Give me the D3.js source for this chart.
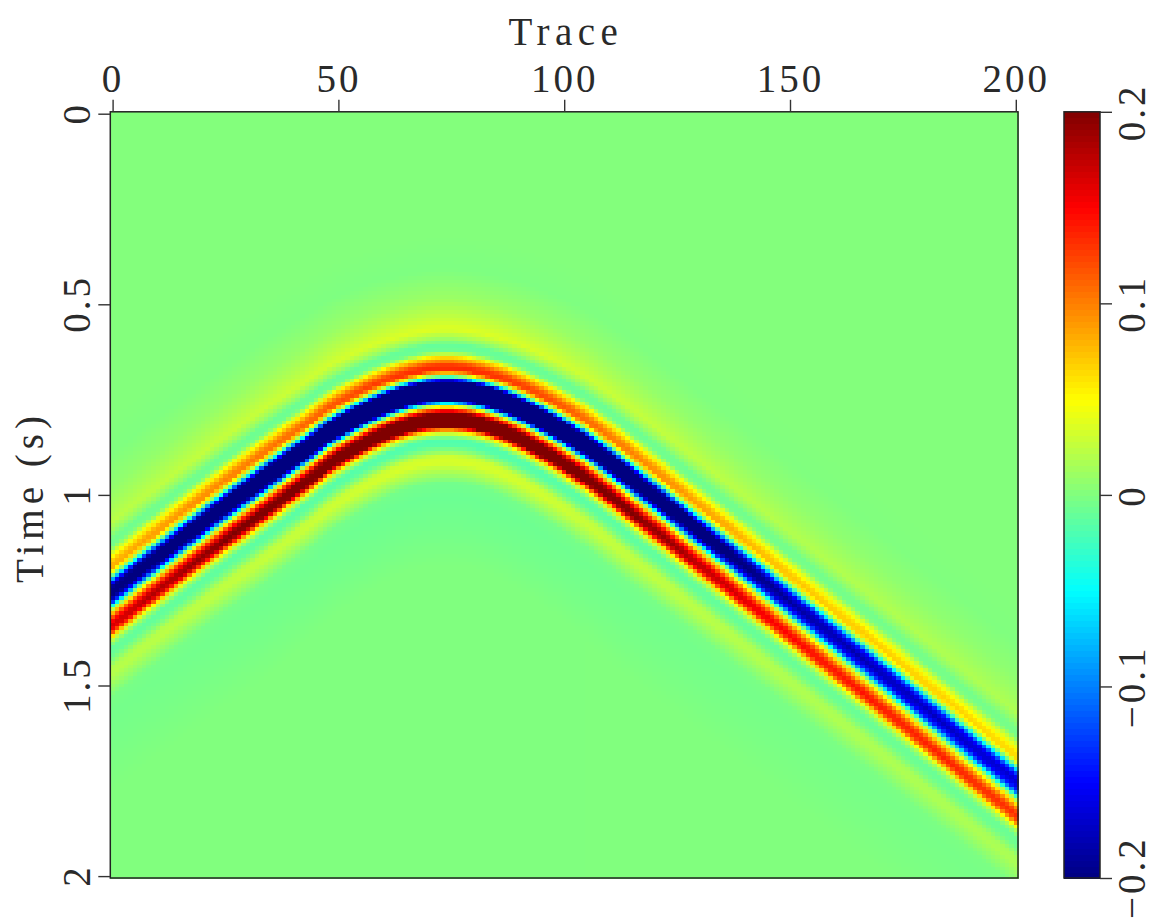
<!DOCTYPE html>
<html><head><meta charset="utf-8">
<script src="https://cdn.jsdelivr.net/npm/d3@7"></script>
<style>
html,body{margin:0;padding:0;background:#fff;overflow:hidden}
svg{display:block}
text{font-family:"Liberation Serif",serif;fill:#2a2a2a;font-weight:400}
</style></head><body>
<svg id="c" width="1153" height="920"></svg>
<script>
const xTicks=[0,50,100,150,200];
const timeTicks=[0,0.5,1,1.5,2];
const timeTickLabels=["0","0.5","1","1.5","2"];
const barTicks=[-0.2,-0.1,0,0.1,0.2];
const barTickLabels=["\u22120.2","\u22120.1","0","0.1","0.2"];
const xTitle="Trace", yTitle="Time (s)";
// reflector centre time (s) read for each trace 0..200
const arrival=[1.252,1.243,1.234,1.225,1.216,1.206,1.197,1.188,1.179,1.170,1.161,1.152,1.143,1.134,1.125,1.116,1.107,1.098,1.090,1.081,
1.072,1.063,1.054,1.046,1.037,1.028,1.020,1.011,1.003,.994,.986,.978,.969,.961,.953,.944,.936,.928,.919,.911,
.903,.895,.886,.878,.869,.860,.851,.842,.834,.827,.820,.814,.807,.801,.795,.789,.783,.777,.772,.767,
.762,.757,.753,.749,.745,.742,.738,.736,.733,.731,.729,.728,.727,.726,.726,.726,.727,.728,.729,.731,
.733,.736,.738,.742,.745,.749,.753,.757,.762,.767,.772,.777,.783,.789,.795,.801,.807,.814,.820,.827,
.834,.841,.848,.856,.863,.870,.879,.887,.896,.905,.913,.922,.931,.940,.949,.958,.967,.976,.985,.994,
1.003,1.012,1.021,1.031,1.040,1.049,1.058,1.067,1.077,1.086,1.095,1.104,1.113,1.123,1.132,1.141,1.150,1.159,1.169,1.178,
1.187,1.196,1.205,1.215,1.224,1.233,1.242,1.252,1.261,1.270,1.280,1.289,1.298,1.308,1.317,1.326,1.336,1.345,1.354,1.364,
1.373,1.382,1.392,1.401,1.410,1.420,1.429,1.438,1.448,1.457,1.467,1.476,1.485,1.495,1.504,1.514,1.523,1.533,1.542,1.552,
1.561,1.571,1.580,1.590,1.599,1.609,1.618,1.628,1.637,1.647,1.656,1.666,1.675,1.685,1.694,1.704,1.713,1.723,1.732,1.742,1.752];
// relative strength of the event read for each trace 0..200
const strength=[.60,.605,.61,.615,.62,.625,.63,.635,.64,.645,.65,.655,.66,.665,.67,.675,.68,.685,.69,.695,
.70,.705,.71,.715,.72,.725,.73,.735,.74,.745,.75,.755,.76,.765,.77,.775,.78,.785,.79,.795,
.80,.805,.81,.815,.82,.83,.84,.85,.86,.87,.88,.885,.89,.90,.905,.91,.92,.925,.93,.94,
.945,.95,.96,.965,.97,.975,.98,.985,.99,.99,.995,.995,1,1,1,1,1,.995,.995,.99,
.99,.985,.98,.975,.97,.965,.96,.95,.945,.94,.93,.925,.92,.91,.905,.90,.89,.88,.87,.86,
.85,.84,.83,.82,.81,.80,.795,.785,.78,.77,.76,.755,.75,.745,.74,.73,.725,.72,.71,.705,
.70,.695,.69,.685,.68,.67,.665,.66,.65,.645,.64,.635,.63,.625,.62,.61,.605,.60,.59,.585,
.58,.575,.57,.565,.56,.555,.55,.545,.54,.535,.53,.528,.526,.525,.524,.522,.521,.52,.518,.516,
.515,.514,.513,.512,.511,.51,.509,.508,.507,.506,.505,.504,.503,.502,.501,.50,.499,.498,.497,.496,
.495,.494,.493,.492,.491,.49,.489,.488,.487,.486,.485,.484,.483,.482,.481,.48,.479,.478,.477,.476,.475];
// vertical width of the event relative to the apex, read for each trace 0..200
const widthFactor=[1.14,1.14,1.14,1.14,1.14,1.14,1.14,1.14,1.14,1.14,
1.14,1.14,1.14,1.14,1.14,1.14,1.14,1.14,1.14,1.14,
1.14,1.14,1.14,1.14,1.14,1.14,1.14,1.14,1.14,1.14,
1.14,1.14,1.14,1.14,
1.14,1.135,1.13,1.13,1.125,1.12,1.12,1.115,1.11,1.11,1.105,1.10,1.095,1.09,1.085,1.08,1.075,1.07,1.065,1.06,1.055,1.05,1.045,1.04,1.035,1.03,1.025,1.02,1.015,1.01,1.01,1.005,1.005,1,1,1,1,1,1,1,
1,
1,1,1,1,1,1,1.005,1.005,1.01,1.01,1.015,1.02,1.025,1.03,1.035,1.04,1.045,1.05,1.055,1.06,1.065,1.07,1.075,1.08,1.085,1.09,1.095,1.10,1.105,1.11,1.11,1.115,1.12,1.12,1.125,1.13,1.13,1.135,1.14,1.14,1.14,
1.14,1.14,1.14,1.14,1.14,1.14,1.14,1.14,1.14,1.14,
1.14,1.14,1.14,1.14,1.14,1.14,1.14,1.14,1.14,1.14,
1.14,1.14,1.14,1.14,1.14,1.14,1.14,1.14,1.14,1.14,
1.14,1.14,1.14,1.14,1.14,1.14,1.14,1.14,1.14,1.14,
1.14,1.14,1.14,1.14,1.14,1.14,1.14,1.14,1.14,1.14,
1.14,1.14,1.14,1.14,1.14,1.14,1.14,1.14,1.14,1.14,
1.14,1.14,1.14,1.14,1.14,1.14,1.14,1.14,1.14,1.14,
1.14,1.14,1.14,1.14,1.14,1.14,1.14,1.14,1.14,1.14,
1.14,1.14,1.14,1.14,1.14];
// wavelet read down the apex column: offset from trough (samples of 0.01 s) and amplitude
const waveOffset=[-40,-32,-28,-24,-20,-16,-14,-12,-10.5,-9.5,-8.8,-8,-7,-6,-5.3,-4.5,-3.8,-3.3,-3,-2.3,-1.5,0,1.5,2.5,3.4,3.8,4.3,5,5.6,6,7,8,9,9.6,10.5,11.3,12.2,13,14.4,15.7,17.4,19,21.7,24.3,28,36,46];
const waveValue=[0,-.002,.004,.01,.022,.036,.015,-.012,-.008,.025,.06,.085,.12,.135,.13,.07,0,-.055,-.11,-.22,-.31,-.36,-.31,-.21,-.055,0,.05,.12,.17,.2,.26,.28,.24,.18,.08,.03,0,-.02,-.017,0,.03,.034,.014,-.006,-.009,-.006,-.001];
const jetDomain=[-.2,-.15,-.05,.05,.15,.2];
const jetColors=["#000080","#0000ff","#00ffff","#ffff00","#ff0000","#800000"];

const svg=d3.select("#c");
const L=110.3,R=1018,T=111.8,B=878;
const x=d3.scaleLinear().domain([0,200]).range([112.6,1015.8]);
const y=d3.scaleLinear().domain([0,2]).range([113.7,876.1]);
const color=d3.scaleLinear().domain(jetDomain).range(jetColors).interpolate(d3.interpolateRgb).clamp(true);
const wave=d3.scaleLinear().domain(waveOffset).range(waveValue).clamp(true);
const traces=d3.range(arrival.length);
const samples=d3.range(201).map(i=>i/100);
const cw=x(1)-x(0), ch=y(0.01)-y(0);
const bias=0.0012;
const cells=[];
traces.forEach(i=>samples.forEach(t=>cells.push({i,t,v:strength[i]*wave((t-arrival[i])*100/widthFactor[i])+bias})));
svg.append("g").attr("shape-rendering","crispEdges").selectAll("rect").data(cells).join("rect")
 .attr("x",d=>x(d.i)-cw/2).attr("y",d=>y(d.t)-ch/2).attr("width",cw+.6).attr("height",ch+.6)
 .attr("fill",d=>color(d.v));
svg.append("rect").attr("x",L).attr("y",T).attr("width",R-L).attr("height",B-T).attr("fill","none").attr("stroke","#222").attr("stroke-width",1.5);

function styleAxis(g){g.select(".domain").remove();g.selectAll("line").attr("stroke","#333").attr("stroke-width",1.4);}
const fs=39;
const gx=svg.append("g").attr("transform",`translate(0,${T})`).call(d3.axisTop(x).tickValues(xTicks).tickFormat(d3.format("d")).tickSize(12).tickPadding(0));
styleAxis(gx);
gx.selectAll("text").attr("y",-20).attr("dy",0).style("font-size",fs+"px").style("letter-spacing","3px").attr("fill","#2a2a2a");
const gy=svg.append("g").attr("transform",`translate(${L},0)`).call(d3.axisLeft(y).tickValues(timeTicks).tickFormat((d,i)=>timeTickLabels[i]).tickSize(12).tickPadding(0));
styleAxis(gy);
gy.selectAll("text").attr("x",0).attr("y",0).attr("dy",0).attr("text-anchor","middle")
 .attr("transform",`translate(-20,-1) rotate(-90)`).style("font-size",fs+"px").style("letter-spacing","3px").attr("fill","#2a2a2a");
svg.append("text").attr("transform","translate(566,45)").attr("text-anchor","middle").style("font-size",fs+"px").style("letter-spacing","5.5px").text(xTitle);
svg.append("text").attr("transform","translate(43,497) rotate(-90)").attr("text-anchor","middle").style("font-size",fs+"px").style("letter-spacing","5px").text(yTitle);

// colour bar
const bx0=1064,bx1=1100;
const by=d3.scaleLinear().domain([-.2,.2]).range([B,T]);
const barSteps=d3.range(128).map(i=>-.2+.4*i/128);
svg.append("g").attr("shape-rendering","crispEdges").selectAll("rect").data(barSteps).join("rect")
 .attr("x",bx0).attr("width",bx1-bx0).attr("y",d=>by(d+.4/128)).attr("height",d=>by(d)-by(d+.4/128)+.6).attr("fill",d=>color(d+.2/128));
svg.append("rect").attr("x",bx0).attr("y",T).attr("width",bx1-bx0).attr("height",B-T).attr("fill","none").attr("stroke","#222").attr("stroke-width",1.5);
const gb=svg.append("g").attr("transform",`translate(${bx1},0)`).call(d3.axisRight(by).tickValues(barTicks).tickFormat((d,i)=>barTickLabels[i]).tickSize(12).tickPadding(0));
styleAxis(gb);
gb.selectAll("text").attr("x",0).attr("y",0).attr("dy",0).attr("text-anchor","middle")
 .attr("transform",(d)=>`translate(44.5,${d===-0.2?-1:0}) rotate(-90)`).style("font-size",fs+"px").style("letter-spacing","3px").attr("fill","#2a2a2a");
</script></body></html>
